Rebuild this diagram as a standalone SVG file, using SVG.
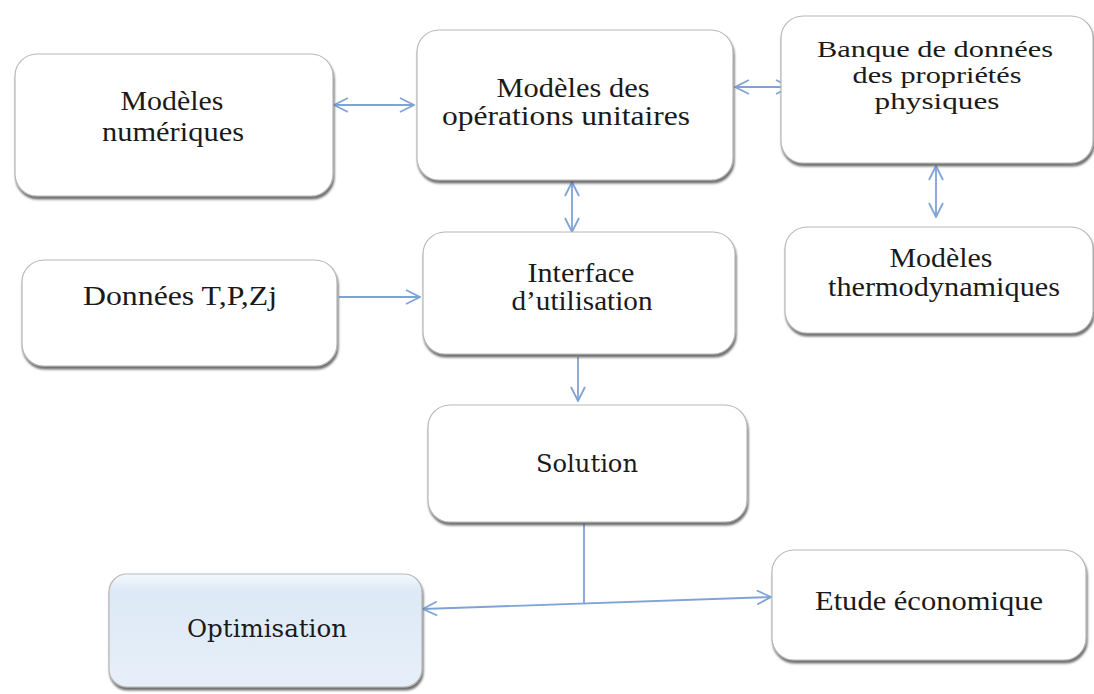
<svg xmlns="http://www.w3.org/2000/svg" width="1094" height="694" viewBox="0 0 1094 694">
<style>
.box{fill:#fff;stroke:#b8b8b8;stroke-width:1.2;filter:url(#sh)}
.t{font-family:"Liberation Serif","Times New Roman",serif;font-size:27px;fill:#1a1a1a;text-anchor:middle}
.s{font-size:24px}
.t2{font-family:"DejaVu Serif",Georgia,serif;font-size:24px;fill:#1a1a1a;text-anchor:middle}
.c{fill:none;stroke:#7fa3d6;stroke-width:1.8}
</style>
<defs>
<filter id="sh" x="-5%" y="-5%" width="112%" height="120%">
<feDropShadow dx="1" dy="3" stdDeviation="1.2" flood-color="#555" flood-opacity="0.85"/>
</filter>
<linearGradient id="blue" x1="0" y1="0" x2="0" y2="1">
<stop offset="0" stop-color="#f4f8fc"/>
<stop offset="0.15" stop-color="#dde9f6"/>
<stop offset="1" stop-color="#e6eff9"/>
</linearGradient>
<marker id="ahb" viewBox="0 0 16 16" refX="15" refY="8" markerWidth="16" markerHeight="16" markerUnits="userSpaceOnUse" orient="auto-start-reverse">
<path d="M1,1 L15,8 L1,15" fill="none" stroke="#7fa3d6" stroke-width="1.8"/>
</marker>
</defs>
<rect width="1094" height="694" fill="#fff"/>
<g id="connectors">
<line class="c" x1="334" y1="105" x2="414" y2="105" marker-start="url(#ahb)" marker-end="url(#ahb)"/>
<line class="c" x1="735" y1="87" x2="790" y2="87" marker-start="url(#ahb)" marker-end="url(#ahb)"/>
<line class="c" x1="572" y1="182" x2="572" y2="232" marker-start="url(#ahb)" marker-end="url(#ahb)"/>
<line class="c" x1="936" y1="166" x2="936" y2="217" marker-start="url(#ahb)" marker-end="url(#ahb)"/>
<line class="c" x1="339" y1="297" x2="420" y2="297" stroke-width="1.2" marker-end="url(#ahb)"/>
<line class="c" x1="578" y1="357" x2="578" y2="401" marker-end="url(#ahb)"/>
<line class="c" x1="584" y1="524" x2="584" y2="603" stroke-width="1.2"/>
<line class="c" x1="423" y1="609" x2="771" y2="597" marker-start="url(#ahb)" marker-end="url(#ahb)"/>
</g>
<g id="n1"><rect class="box" x="15" y="54" width="318" height="142" rx="22"/>
<text class="t" x="172" y="110" textLength="103" lengthAdjust="spacingAndGlyphs">Modèles</text><text class="t" x="173" y="141" textLength="142" lengthAdjust="spacingAndGlyphs">numériques</text></g>
<g id="n2"><rect class="box" x="417" y="30" width="316" height="150" rx="22"/>
<text class="t" x="573" y="97" textLength="153" lengthAdjust="spacingAndGlyphs">Modèles des</text><text class="t" x="566" y="125" textLength="248" lengthAdjust="spacingAndGlyphs">opérations unitaires</text></g>
<g id="n3"><rect class="box" x="781" y="16" width="312" height="147" rx="22"/>
<text class="t s" x="935" y="57" textLength="236" lengthAdjust="spacingAndGlyphs">Banque de données</text><text class="t s" x="937" y="83" textLength="169" lengthAdjust="spacingAndGlyphs">des propriétés</text><text class="t s" x="937" y="109" textLength="125" lengthAdjust="spacingAndGlyphs">physiques</text></g>
<g id="n4"><rect class="box" x="785" y="227" width="308" height="106" rx="22"/>
<text class="t" x="941" y="267" textLength="103" lengthAdjust="spacingAndGlyphs">Modèles</text><text class="t" x="944" y="296" textLength="232" lengthAdjust="spacingAndGlyphs">thermodynamiques</text></g>
<g id="n5"><rect class="box" x="22" y="260" width="315" height="106" rx="22"/>
<text class="t" x="180" y="305" textLength="194" lengthAdjust="spacingAndGlyphs">Données T,P,Zj</text></g>
<g id="n6"><rect class="box" x="423" y="232" width="312" height="122" rx="22"/>
<text class="t" x="581" y="282" textLength="107" lengthAdjust="spacingAndGlyphs">Interface</text><text class="t" x="582" y="310" textLength="141" lengthAdjust="spacingAndGlyphs">d’utilisation</text></g>
<g id="n7"><rect class="box" x="428" y="405" width="319" height="117" rx="22"/>
<text class="t2" x="587" y="472" textLength="102" lengthAdjust="spacingAndGlyphs">Solution</text></g>
<g id="n8"><rect class="box" x="109" y="574" width="313" height="113" rx="18" style="fill:url(#blue)"/>
<text class="t2" x="267" y="637" textLength="160" lengthAdjust="spacingAndGlyphs">Optimisation</text></g>
<g id="n9"><rect class="box" x="772" y="550" width="314" height="110" rx="22"/>
<text class="t" x="929" y="610" textLength="228" lengthAdjust="spacingAndGlyphs">Etude économique</text></g>
</svg>
